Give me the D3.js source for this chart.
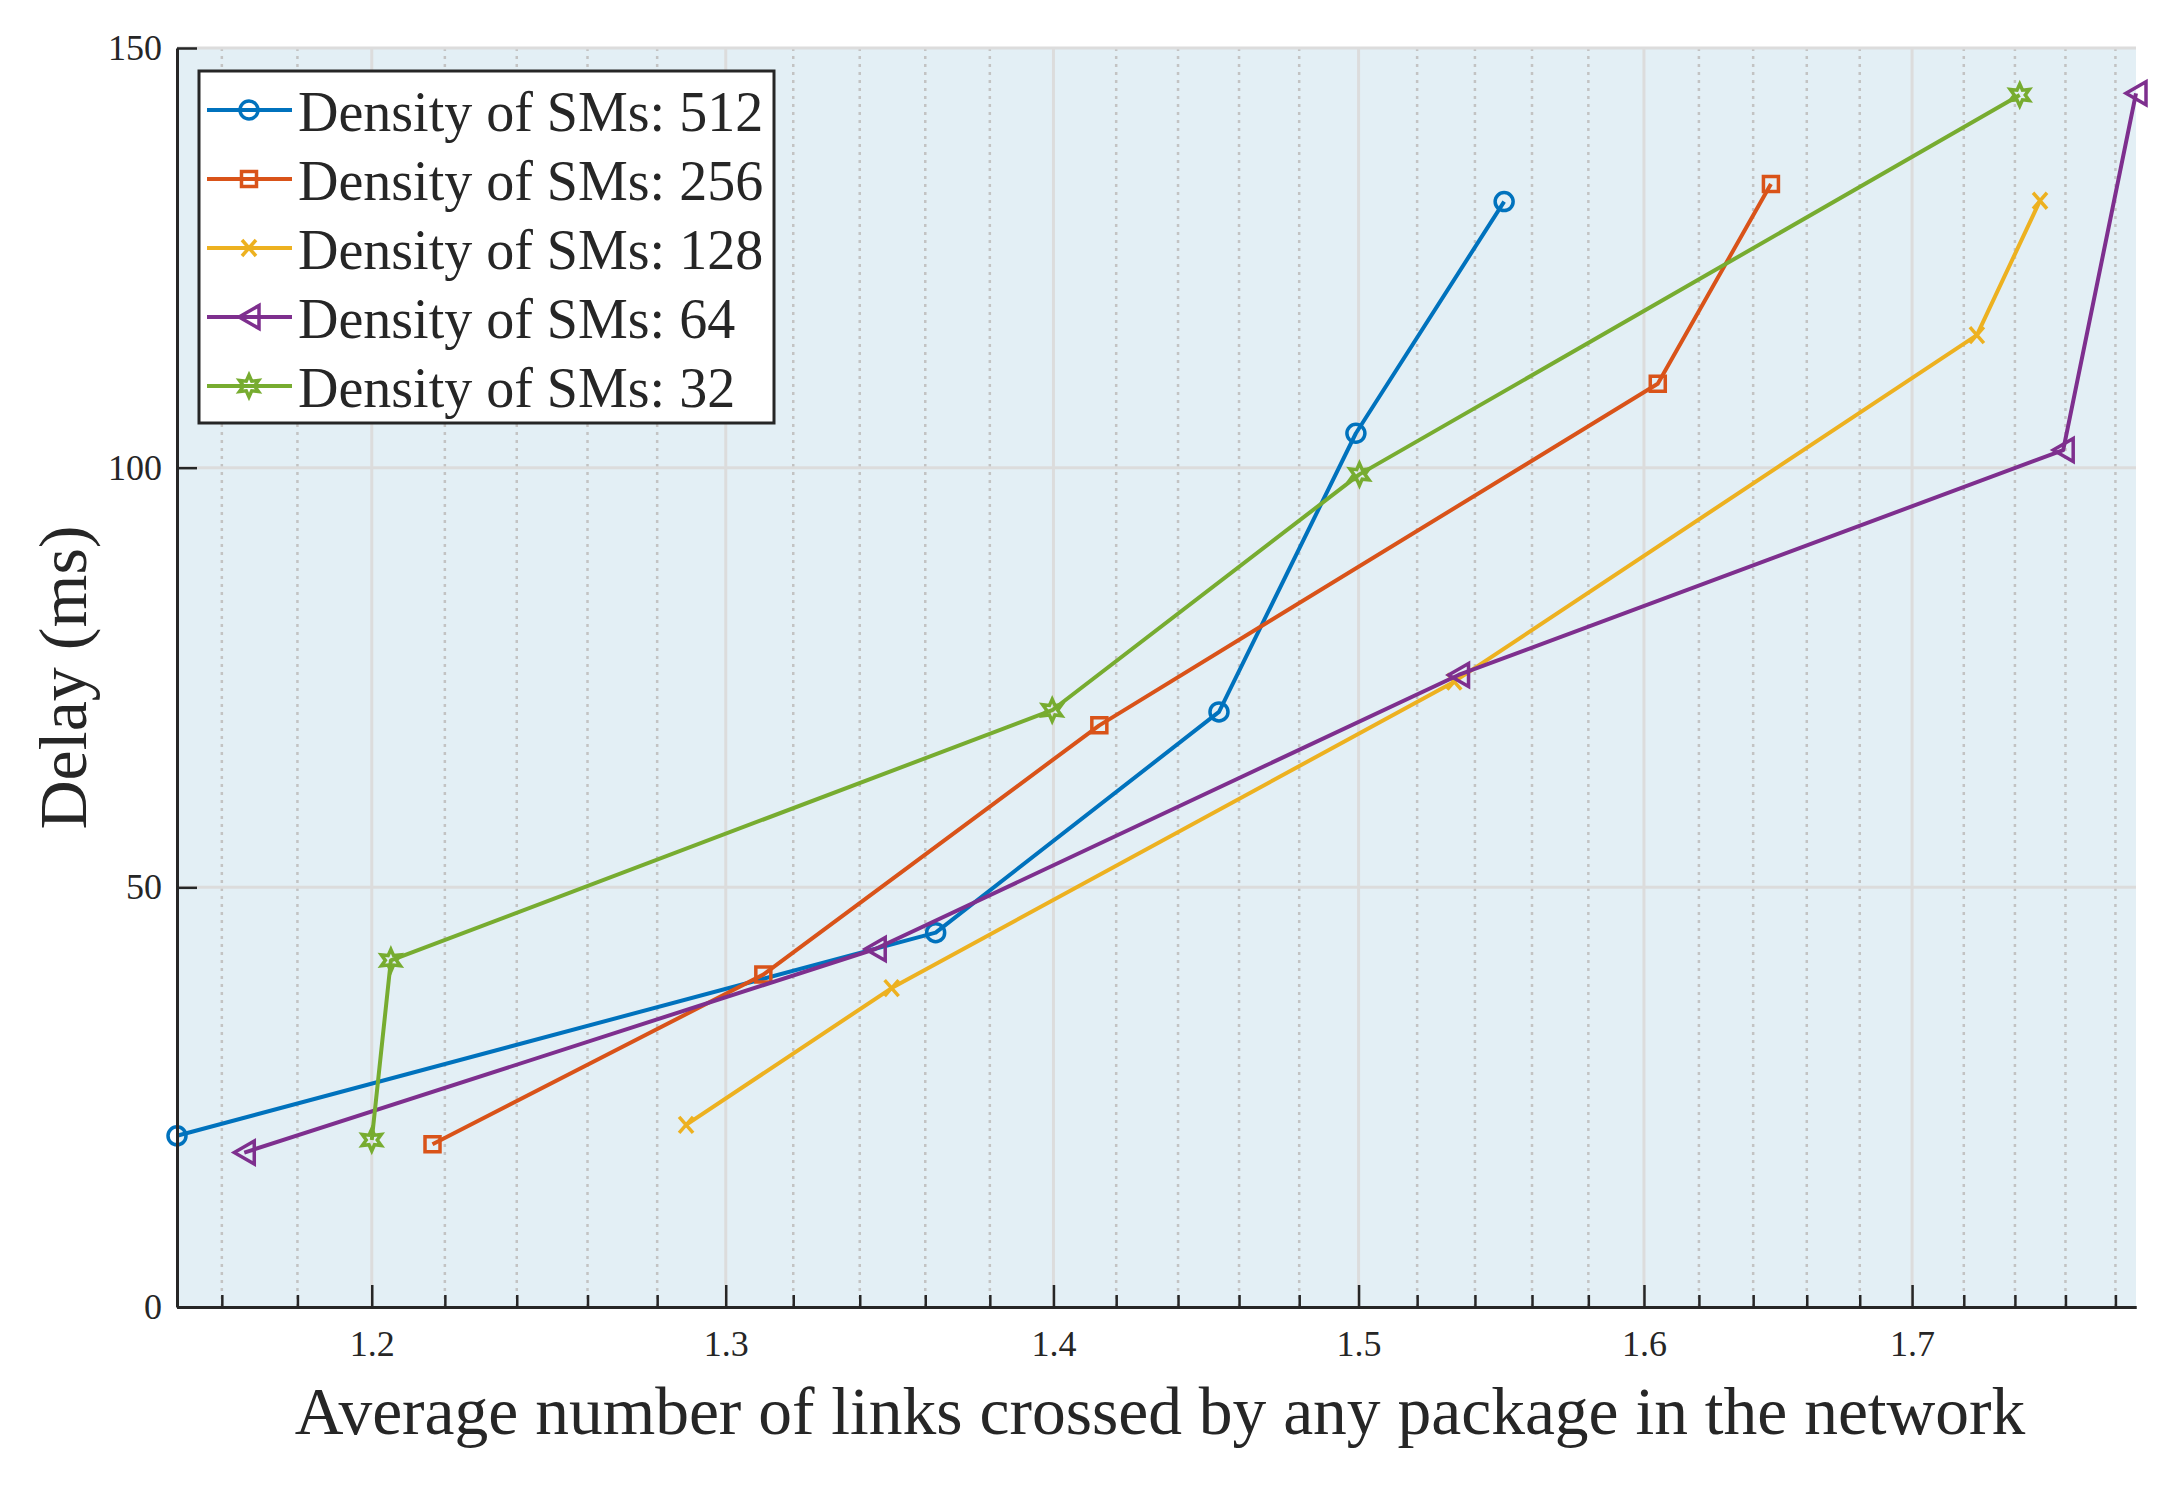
<!DOCTYPE html>
<html>
<head>
<meta charset="utf-8">
<script src="https://cdn.jsdelivr.net/npm/d3@7"></script>
<style>
  body { margin: 0; background: #fff; }
  text { font-family: "Liberation Serif", "Times New Roman", serif; fill: #262626; }
</style>
</head>
<body>
<script>
var width = 2182;
var height = 1492;

// data
var seriesNames = ['Density of SMs: 512', 'Density of SMs: 256', 'Density of SMs: 128', 'Density of SMs: 64', 'Density of SMs: 32'];
var x512 = [1.1483, 1.3632, 1.4534, 1.4991, 1.5502];
var y512 = [20.4, 44.6, 70.9, 104.1, 131.7];
var x256 = [1.2166, 1.3111, 1.4146, 1.6050, 1.6466];
var y256 = [19.4, 39.6, 69.3, 110.0, 133.8];
var x128 = [1.2884, 1.3497, 1.5328, 1.7251, 1.7499];
var y128 = [21.7, 38.0, 74.5, 115.8, 131.8];
var x64 = [1.1659, 1.3447, 1.5343, 1.7591, 1.7883];
var y64 = [18.4, 42.65, 75.3, 102.1, 144.6];
var x32 = [1.2, 1.2052, 1.3996, 1.5003, 1.7419];
var y32 = [19.9, 41.3, 71.1, 99.2, 144.4];

var xTicks = [1.2, 1.3, 1.4, 1.5, 1.6, 1.7];
var xMinorTicks = [1.16, 1.18, 1.22, 1.24, 1.26, 1.28, 1.32, 1.34, 1.36, 1.38, 1.42, 1.44, 1.46, 1.48,
                   1.52, 1.54, 1.56, 1.58, 1.62, 1.64, 1.66, 1.68, 1.72, 1.74, 1.76, 1.78];
var yTicks = [0, 50, 100, 150];

var colors = ['#0072BD', '#D95319', '#EDB120', '#7E2F8E', '#77AC30'];
var markers = ['circle', 'square', 'x', 'triangle', 'hexagram'];

var series = [
  {name: seriesNames[0], xs: x512, ys: y512},
  {name: seriesNames[1], xs: x256, ys: y256},
  {name: seriesNames[2], xs: x128, ys: y128},
  {name: seriesNames[3], xs: x64, ys: y64},
  {name: seriesNames[4], xs: x32, ys: y32}
];

var margin = {left: 177, right: 46, top: 48, bottom: 185};

var svg = d3.select('body').append('svg')
    .attr('width', width)
    .attr('height', height);

// log x axis, tight on the data
var x = d3.scaleLog()
    .domain([d3.min(x512), d3.max(x64)])
    .range([margin.left, width - margin.right]);

var y = d3.scaleLinear()
    .domain([0, 150])
    .range([height - margin.bottom, margin.top]);

// plot background
svg.append('rect')
    .attr('x', x.range()[0])
    .attr('y', y(150))
    .attr('width', x.range()[1] - x.range()[0])
    .attr('height', y(0) - y(150))
    .attr('fill', '#e3eff5');

// grid
var grid = svg.append('g');
grid.selectAll('.minor').data(xMinorTicks).enter().append('line')
    .attr('x1', function(d) { return x(d); })
    .attr('x2', function(d) { return x(d); })
    .attr('y1', y(0)).attr('y2', y(150))
    .attr('stroke', '#c3c3c3')
    .attr('stroke-width', 2.5)
    .attr('stroke-dasharray', '3,5');
grid.selectAll('.major').data(xTicks).enter().append('line')
    .attr('x1', function(d) { return x(d); })
    .attr('x2', function(d) { return x(d); })
    .attr('y1', y(0)).attr('y2', y(150))
    .attr('stroke', '#dcdcdc')
    .attr('stroke-width', 3);
grid.selectAll('.ymajor').data(yTicks.slice(1)).enter().append('line')
    .attr('x1', x.range()[0]).attr('x2', x.range()[1])
    .attr('y1', function(d) { return y(d); })
    .attr('y2', function(d) { return y(d); })
    .attr('stroke', '#dcdcdc')
    .attr('stroke-width', 3);

// marker shapes
var markerPath = function(type) {
  if (type === 'circle') {
    return 'M9,0A9,9 0 1,1 -9,0A9,9 0 1,1 9,0Z';
  } else if (type === 'square') {
    return 'M-7.5,-7.5H7.5V7.5H-7.5Z';
  } else if (type === 'x') {
    return 'M-7,-8L7,8M-7,8L7,-8';
  } else if (type === 'triangle') {
    return 'M-10,0L10,-11.5L10,11.5Z';
  }
  var pts = [];
  for (var i = 0; i < 12; i++) {
    var r = i % 2 === 0 ? 11 : 5.5;
    var a = -Math.PI / 2 + i * Math.PI / 6;
    pts.push([r * Math.cos(a), r * Math.sin(a)]);
  }
  return 'M' + pts.join('L') + 'Z';
};

var line = d3.line()
    .x(function(d) { return x(d[0]); })
    .y(function(d) { return y(d[1]); });

var plot = svg.append('g');
series.forEach(function(s, i) {
  var pts = d3.zip(s.xs, s.ys);
  plot.append('path')
      .datum(pts)
      .attr('d', line)
      .attr('fill', 'none')
      .attr('stroke', colors[i])
      .attr('stroke-width', 4)
      .attr('stroke-linejoin', 'round');
  plot.selectAll('.m' + i).data(pts).enter().append('path')
      .attr('transform', function(d) { return 'translate(' + x(d[0]) + ',' + y(d[1]) + ')'; })
      .attr('d', markerPath(markers[i]))
      .attr('fill', 'none')
      .attr('stroke', colors[i])
      .attr('stroke-width', 3.5);
});

// axes, ticks pointing inward
var xAxisMinor = d3.axisBottom(x).tickValues(xMinorTicks).tickSize(-12).tickSizeOuter(0).tickFormat('');
var xAxis = d3.axisBottom(x).tickValues(xTicks).tickSize(-22).tickSizeOuter(0).tickPadding(23)
    .tickFormat(d3.format('.1f'));
var yAxis = d3.axisLeft(y).tickValues(yTicks).tickSize(-20).tickSizeOuter(0).tickPadding(15);

svg.append('g').attr('transform', 'translate(0,' + y(0) + ')').call(xAxisMinor);
var gx = svg.append('g').attr('transform', 'translate(0,' + y(0) + ')').call(xAxis);
var gy = svg.append('g').attr('transform', 'translate(' + x.range()[0] + ',0)').call(yAxis);

svg.selectAll('.domain').attr('stroke', '#262626').attr('stroke-width', 3);
svg.selectAll('.tick line').attr('stroke', '#262626').attr('stroke-width', 2.5);
svg.selectAll('.tick text')
    .style('font-family', '"Liberation Serif", "Times New Roman", serif')
    .style('font-size', '36px')
    .attr('fill', '#262626');

// axis labels
svg.append('text')
    .attr('x', 1160)
    .attr('y', 1434)
    .attr('text-anchor', 'middle')
    .style('font-size', '67.5px')
    .text('Average number of links crossed by any package in the network');

svg.append('text')
    .attr('transform', 'translate(86,' + (y(75)) + ') rotate(-90)')
    .attr('text-anchor', 'middle')
    .style('font-size', '68px')
    .text('Delay (ms)');

// legend
var legend = svg.append('g').attr('transform', 'translate(199,71)');
legend.append('rect')
    .attr('width', 575)
    .attr('height', 352)
    .attr('fill', '#fff')
    .attr('stroke', '#262626')
    .attr('stroke-width', 3);

var rows = legend.selectAll('.row').data(series).enter().append('g')
    .attr('transform', function(d, i) { return 'translate(0,' + (39 + i * 69) + ')'; });
rows.append('line')
    .attr('x1', 8).attr('x2', 93)
    .attr('stroke', function(d, i) { return colors[i]; })
    .attr('stroke-width', 4);
rows.append('path')
    .attr('transform', 'translate(50,0)')
    .attr('d', function(d, i) { return markerPath(markers[i]); })
    .attr('fill', 'none')
    .attr('stroke', function(d, i) { return colors[i]; })
    .attr('stroke-width', 3.5);
rows.append('text')
    .attr('x', 99)
    .attr('y', 21)
    .style('font-size', '56px')
    .text(function(d) { return d.name; });
</script>
</body>
</html>
